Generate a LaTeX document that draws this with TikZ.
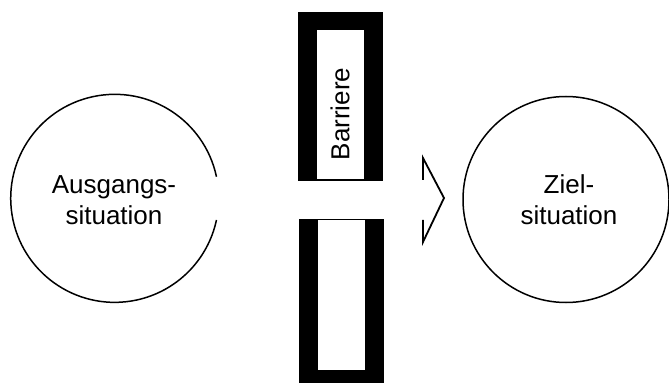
\documentclass[tikz,border=0pt]{standalone}
\usepackage{fontspec}
\setmainfont{Liberation Sans}
\begin{document}
\begin{tikzpicture}[x=1pt,y=1pt,
  lbl/.style={font=\fontsize{26}{31}\selectfont, align=center, inner sep=0pt},
  wallout/.style={fill=black, draw=none, inner sep=0pt, minimum width=85pt},
  wallin/.style={fill=white, draw=none, inner sep=0pt, minimum width=47pt},
  ring/.style={circle, inner sep=0pt, line width=1.5pt}]
\useasboundingbox (0,0) rectangle (669,383);
% left circle with gap
\node[ring, minimum size=208pt] (L) at (114,184.5) {};
\draw[line width=1.5pt] (L.12) arc[start angle=12, end angle=348, radius=104pt];
\node[lbl] (Lt) at (114,183) {Ausgangs-\\situation};
% right circle
\node[ring, draw, minimum size=206pt] (R) at (566,183.5) {};
\node[lbl] (Rt) at (569,183) {Ziel-\\situation};
% barrier upper
\node[wallout, minimum height=169pt] (BUo) at (340.5,286.5) {};
\node[wallin, minimum height=149.5pt] (BUi) at (340.5,278.25) {};
\node[lbl, rotate=90] (BUt) at (340,269) {Barriere};
% barrier lower
\node[wallout, minimum height=164pt] (BLo) at (341.5,82) {};
\node[wallin, minimum height=150pt] (BLi) at (341.5,88) {};
% chevron arrow head
\coordinate (c1) at (423,203);
\coordinate (c2) at (423,225);
\coordinate (tip) at (444,185);
\coordinate (c3) at (423,141);
\coordinate (c4) at (423,163);
\draw[line width=1.8pt, line join=miter] (c1) -- (c2) -- (tip) -- (c3) -- (c4);
\end{tikzpicture}
\end{document}
